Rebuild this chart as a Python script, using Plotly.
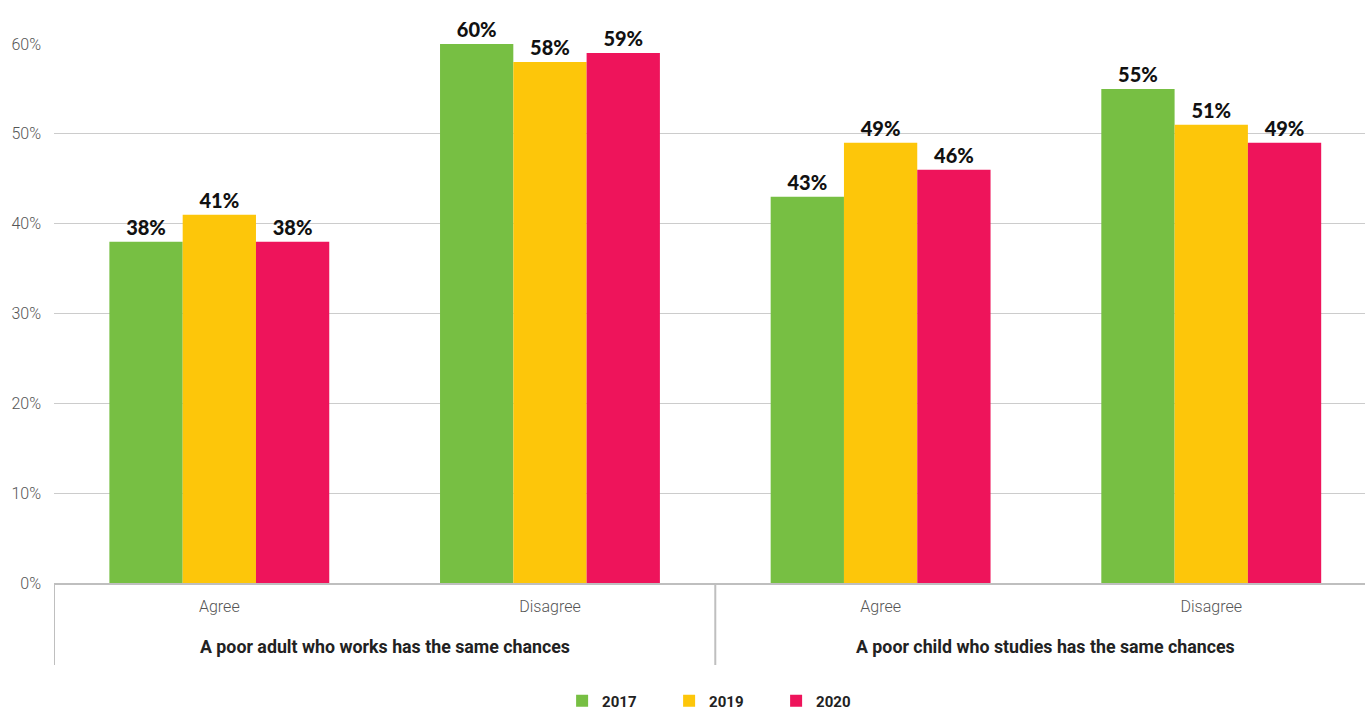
import plotly.graph_objects as go

group_labels = ["A poor adult who works has the same chances",
                "A poor child who studies has the same chances"]
answers = ["Agree", "Disagree", "Agree", "Disagree"]
category_ids = ["adult_agree", "adult_disagree", "child_agree", "child_disagree"]
years = ["2017", "2019", "2020"]
values = {
    "2017": [0.38, 0.60, 0.43, 0.55],
    "2019": [0.41, 0.58, 0.49, 0.51],
    "2020": [0.38, 0.59, 0.46, 0.49],
}
colors = {"2017": "#77BF43", "2019": "#FDC60A", "2020": "#EE145B"}
y_ticks = [0, 0.1, 0.2, 0.3, 0.4, 0.5, 0.6]

PLOT_H = 539  # pixel height of the plotting area
def below(px):
    """paper y for a point px pixels below the x axis"""
    return -px / PLOT_H

fig = go.Figure()
for yr in years:
    fig.add_trace(go.Bar(
        x=category_ids,
        y=values[yr],
        name=yr,
        marker=dict(color=colors[yr], line=dict(width=0)),
        text=[f"{v*100:.0f}%" for v in values[yr]],
        textposition="outside",
        textfont=dict(family="Lato", size=20, color="#111111", weight=900),
        cliponaxis=False,
    ))

# group captions under the category labels
for i, label in enumerate(group_labels):
    fig.add_annotation(x=2 * i + 0.5, xref="x", y=below(63), yref="paper",
                       text=label, showarrow=False, yanchor="middle",
                       font=dict(family="Roboto", size=17.8, color="#222222", weight=700))

# vertical dividers delimiting the groups
for xpos in [-0.5, 1.5]:
    fig.add_shape(type="line", xref="x", yref="paper", x0=xpos, x1=xpos,
                  y0=0, y1=below(82), line=dict(color="#BFBFBF", width=2))

fig.update_layout(
    width=1365, height=711,
    barmode="group", bargap=0.335, bargroupgap=0,
    paper_bgcolor="white", plot_bgcolor="white",
    margin=dict(l=54, r=0, t=44, b=128, autoexpand=False),
    font=dict(family="Roboto", color="#555555", size=16),
    showlegend=True,
    legend=dict(orientation="h", x=0.51, xanchor="center", y=below(118), yanchor="middle",
                font=dict(family="Roboto", size=15, color="#222222", weight=700),
                itemwidth=30, entrywidth=62, entrywidthmode="pixels"),
)
fig.update_yaxes(range=[0, 0.6], tickvals=y_ticks, tickformat=".0%",
                 showgrid=True, gridcolor="#CCCCCC", gridwidth=1,
                 zeroline=False, showline=False, ticks="", ticklabelstandoff=12,
                 automargin=False,
                 tickfont=dict(family="Roboto", size=16, color="#555555", weight=300))
fig.update_xaxes(type="category", range=[-0.5, 3.465],
                 tickvals=category_ids, ticktext=answers,
                 showline=True, linecolor="#BFBFBF", linewidth=2,
                 ticks="", ticklabelstandoff=8, automargin=False,
                 tickfont=dict(family="Roboto", size=16, color="#555555", weight=300))
fig.write_html("out.html")
